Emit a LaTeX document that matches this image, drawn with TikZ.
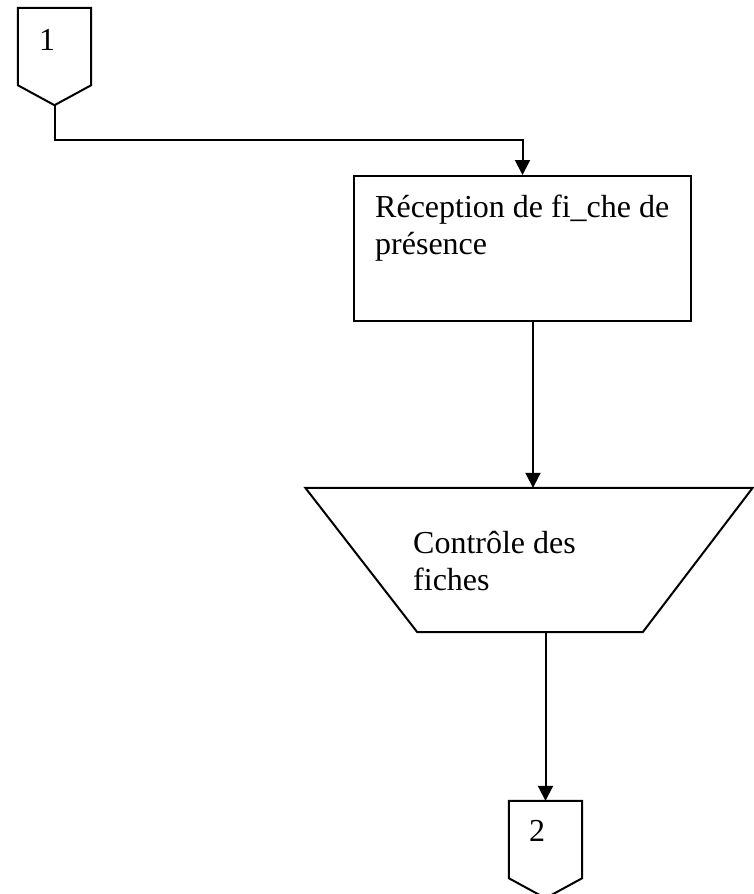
\documentclass[tikz,border=0pt]{standalone}
\usepackage{fontspec}
\setmainfont{Liberation Serif}
\usetikzlibrary{arrows.meta,calc}

\begin{document}
\begin{tikzpicture}[x=1pt,y=-1pt,
  outline/.style={draw=black, line width=2pt, line join=miter},
  frame/.style={rectangle, draw=none, inner sep=0pt},
  flow/.style={line width=2pt, -{Triangle[length=15pt,width=15pt]}},
  txt/.style={inner sep=0pt, font=\fontsize{32}{37}\selectfont}]

  % page area
  \fill[white] (0,0) rectangle (753,894);
  \useasboundingbox (0,0) rectangle (753,894);

  % off-page connector 1
  \node[frame, minimum width=73pt, minimum height=77pt] (c1) at (54.5,46.5) {};
  \coordinate (c1tip) at ($(c1.south)+(0,20)$);
  \draw[outline] (c1.north west) -- (c1.north east) -- (c1.south east)
    -- (c1tip) -- (c1.south west) -- cycle;
  \node[txt, anchor=base] (c1lbl) at (47,50) {1};

  % process box
  \node[frame, outline, minimum width=337pt, minimum height=145pt] (recv) at (522.5,248.5) {};
  \node[txt, anchor=base west] (recvlbl) at (375,217)
    {\parbox[t]{330pt}{\raggedright Réception de fi\_che de\\présence}};

  % manual operation (trapezoid)
  \node[frame, minimum width=447pt, minimum height=144pt] (ctrl) at (529,560) {};
  \draw[outline] (ctrl.north west) -- (ctrl.north east)
    -- ($(ctrl.south east)+(-110,0)$) -- ($(ctrl.south west)+(112,0)$) -- cycle;
  \node[txt, anchor=base west] (ctrllbl) at (413,553)
    {\parbox[t]{200pt}{\raggedright Contrôle des\\fiches}};

  % off-page connector 2
  \node[frame, minimum width=73pt, minimum height=77pt] (c2) at (545.5,839.5) {};
  \coordinate (c2tip) at ($(c2.south)+(0,20)$);
  \draw[outline] (c2.north west) -- (c2.north east) -- (c2.south east)
    -- (c2tip) -- (c2.south west) -- cycle;
  \node[txt, anchor=base] (c2lbl) at (537,841) {2};

  % connectors
  \draw[flow] (c1tip) -- ++(0,35) -| (recv.north);
  \coordinate (recvout) at ($(recv.south)+(10.5,0)$);
  \draw[flow] (recvout) -- (recvout |- ctrl.north);
  \draw[flow] (c2.north |- ctrl.south) -- (c2.north);
\end{tikzpicture}
\end{document}
